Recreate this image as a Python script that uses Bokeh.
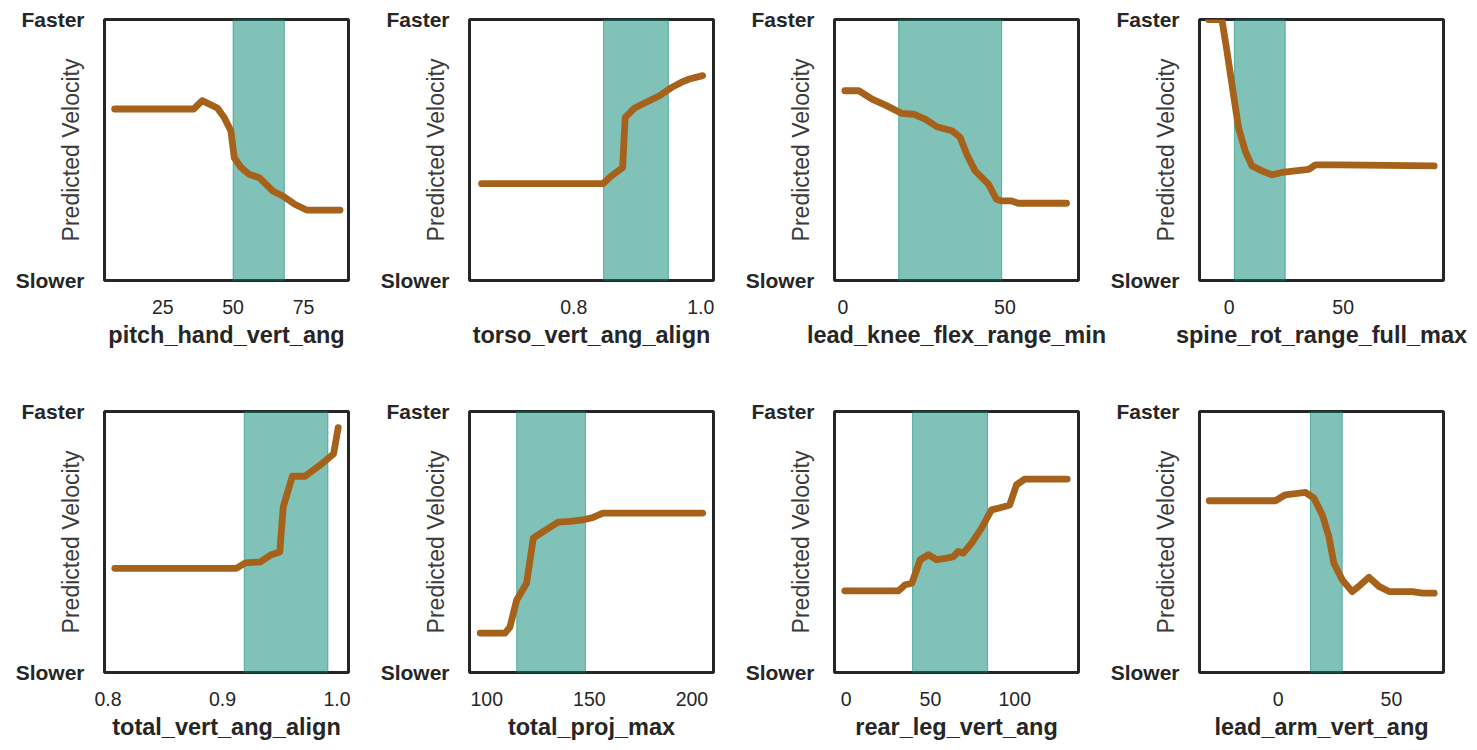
from bokeh.plotting import figure
from bokeh.layouts import column, row
from bokeh.models import FixedTicker, BoxAnnotation, Range1d
from bokeh.embed import file_html
from bokeh.resources import INLINE

# ---------------- data ----------------
y_tick_values = [0, 1]
y_tick_labels = ["Slower", "Faster"]
y_axis_title = "Predicted Velocity"

feature_names = [
    "pitch_hand_vert_ang", "torso_vert_ang_align", "lead_knee_flex_range_min",
    "spine_rot_range_full_max", "total_vert_ang_align", "total_proj_max",
    "rear_leg_vert_ang", "lead_arm_vert_ang",
]

pitch_hand_vert_ang_x = [7.9, 36.0, 39.0, 44.4, 46.8, 49.2, 50.4, 52.8, 55.7, 59.3, 61.7, 64.1, 67.7, 71.9, 76.1, 88.0]
pitch_hand_vert_ang_y = [0.657, 0.657, 0.689, 0.661, 0.625, 0.574, 0.471, 0.433, 0.407, 0.394, 0.369, 0.343, 0.324, 0.292, 0.270, 0.270]

torso_vert_ang_align_x = [0.655, 0.846, 0.856, 0.877, 0.881, 0.896, 0.914, 0.935, 0.953, 0.969, 0.982, 1.003]
torso_vert_ang_align_y = [0.371, 0.371, 0.394, 0.433, 0.625, 0.661, 0.683, 0.708, 0.738, 0.759, 0.772, 0.785]

lead_knee_flex_range_min_x = [0.6, 4.9, 9.0, 13.6, 18.2, 21.8, 25.4, 29.0, 33.6, 36.2, 38.2, 40.8, 44.9, 47.4, 49.0, 52.0, 54.1, 69.0]
lead_knee_flex_range_min_y = [0.727, 0.727, 0.695, 0.669, 0.640, 0.637, 0.618, 0.589, 0.574, 0.548, 0.484, 0.420, 0.369, 0.311, 0.305, 0.305, 0.296, 0.296]

spine_rot_range_full_max_x = [-9.1, -3.2, -1.0, 1.2, 4.1, 7.0, 10.0, 14.4, 18.8, 23.2, 29.0, 34.9, 37.8, 48.1, 89.9]
spine_rot_range_full_max_y = [1.0, 1.0, 0.881, 0.753, 0.586, 0.497, 0.439, 0.420, 0.405, 0.414, 0.420, 0.426, 0.443, 0.443, 0.439]

total_vert_ang_align_x = [0.806, 0.912, 0.920, 0.933, 0.942, 0.950, 0.953, 0.961, 0.972, 0.985, 0.997, 1.001]
total_vert_ang_align_y = [0.399, 0.399, 0.420, 0.424, 0.450, 0.462, 0.634, 0.752, 0.752, 0.794, 0.838, 0.938]

total_proj_max_x = [96.8, 108.9, 111.3, 114.6, 119.4, 122.7, 127.5, 134.8, 140.5, 146.9, 151.8, 156.6, 205.2]
total_proj_max_y = [0.151, 0.151, 0.174, 0.278, 0.342, 0.515, 0.540, 0.576, 0.579, 0.585, 0.594, 0.611, 0.611]

rear_leg_vert_ang_x = [-0.8, 31.1, 35.0, 39.0, 43.9, 48.8, 53.7, 59.6, 63.6, 66.5, 69.5, 74.4, 80.3, 86.2, 93.1, 97.0, 101.0, 105.9, 131.1]
rear_leg_vert_ang_y = [0.313, 0.313, 0.336, 0.342, 0.432, 0.451, 0.432, 0.438, 0.444, 0.464, 0.457, 0.496, 0.553, 0.623, 0.634, 0.642, 0.719, 0.741, 0.741]

lead_arm_vert_ang_x = [-30.4, -1.2, 3.2, 12.1, 15.8, 19.5, 22.4, 24.6, 28.3, 32.7, 36.4, 40.1, 44.5, 49.0, 59.3, 63.7, 68.9]
lead_arm_vert_ang_y = [0.658, 0.658, 0.681, 0.690, 0.668, 0.604, 0.521, 0.419, 0.355, 0.310, 0.336, 0.365, 0.330, 0.310, 0.310, 0.304, 0.304]

# shaded ranges (lower, upper) per feature
band_low = [50.0, 0.847, 17.2, 2.3, 0.919, 114.6, 39.4, 14.3]
band_high = [68.2, 0.949, 49.0, 24.6, 0.992, 148.1, 83.9, 28.3]

# x-axis limits per feature
x_min = [4.3, 0.636, -2.6, -13.0, 0.797, 91.6, -6.9, -34.7]
x_max = [91.0, 1.020, 72.7, 94.0, 1.010, 210.5, 137.8, 73.0]

# x tick values and labels per feature
x_ticks = [[25, 50, 75], [0.8, 1.0], [0, 50], [0, 50], [0.8, 0.9, 1.0], [100, 150, 200], [0, 50, 100], [0, 50]]
x_tick_labels = [["25", "50", "75"], ["0.8", "1.0"], ["0", "50"], ["0", "50"],
                 ["0.8", "0.9", "1.0"], ["100", "150", "200"], ["0", "50", "100"], ["0", "50"]]

series_x = [pitch_hand_vert_ang_x, torso_vert_ang_align_x, lead_knee_flex_range_min_x, spine_rot_range_full_max_x,
            total_vert_ang_align_x, total_proj_max_x, rear_leg_vert_ang_x, lead_arm_vert_ang_x]
series_y = [pitch_hand_vert_ang_y, torso_vert_ang_align_y, lead_knee_flex_range_min_y, spine_rot_range_full_max_y,
            total_vert_ang_align_y, total_proj_max_y, rear_leg_vert_ang_y, lead_arm_vert_ang_y]

# ---------------- styling ----------------
FONT = "Liberation Sans"
TEXT = "#262626"
LINE_COLOR = "#a6611a"
BAND_COLOR = "#018571"

# per-column borders (left, right) so that frames sit where the reference has them
COL_BORDERS = [(104, 17), (104, 17), (104, 30), (91, 32)]


def make_panel(i, top_border, bottom_border):
    bl, br = COL_BORDERS[i % 4]
    p = figure(frame_width=244, frame_height=261, output_backend="svg", toolbar_location=None,
               x_range=Range1d(x_min[i], x_max[i]), y_range=Range1d(0, 1),
               min_border_left=bl, min_border_right=br,
               min_border_top=top_border, min_border_bottom=bottom_border)
    p.grid.visible = False
    p.background_fill_color = "white"
    p.border_fill_color = "white"
    p.outline_line_color = TEXT
    p.outline_line_width = 3
    p.outline_line_alpha = 1.0

    p.add_layout(BoxAnnotation(left=band_low[i], right=band_high[i], fill_color=BAND_COLOR,
                               fill_alpha=0.5, line_color=BAND_COLOR, line_alpha=0.55,
                               line_width=1, level="underlay"))
    p.line(series_x[i], series_y[i], line_color=LINE_COLOR, line_width=6.8,
           line_cap="round", line_join="round")

    xa = p.xaxis[0]
    xa.ticker = FixedTicker(ticks=x_ticks[i])
    xa.major_label_overrides = {t: l for t, l in zip(x_ticks[i], x_tick_labels[i])}
    xa.axis_line_color = None
    xa.major_tick_line_color = None
    xa.minor_tick_line_color = None
    xa.major_tick_out = 0
    xa.major_tick_in = 0
    xa.major_label_standoff = 19
    xa.major_label_text_font = FONT
    xa.major_label_text_font_size = "19.5px"
    xa.major_label_text_color = TEXT
    xa.axis_label = feature_names[i]
    xa.axis_label_text_font = FONT
    xa.axis_label_text_font_style = "bold"
    xa.axis_label_text_font_size = "23.5px"
    xa.axis_label_text_color = TEXT
    xa.axis_label_standoff = 5

    ya = p.yaxis[0]
    ya.ticker = FixedTicker(ticks=y_tick_values)
    ya.major_label_overrides = {t: l for t, l in zip(y_tick_values, y_tick_labels)}
    ya.axis_line_color = None
    ya.major_tick_line_color = None
    ya.minor_tick_line_color = None
    ya.major_tick_out = 0
    ya.major_tick_in = 0
    ya.major_label_standoff = 20
    ya.major_label_text_font = FONT
    ya.major_label_text_font_style = "bold"
    ya.major_label_text_font_size = "21px"
    ya.major_label_text_color = TEXT
    ya.axis_label = y_axis_title
    ya.axis_label_text_font = FONT
    ya.axis_label_text_font_style = "normal"
    ya.axis_label_text_font_size = "23px"
    ya.axis_label_text_color = "#3a3a3a"
    ya.axis_label_standoff = -71
    return p


row1 = row([make_panel(i, 19, 112) for i in range(4)], spacing=0)
row2 = row([make_panel(i, 19, 77) for i in range(4, 8)], spacing=0)
layout = column([row1, row2], spacing=0)

open("out.html", "w").write(file_html(layout, INLINE))
